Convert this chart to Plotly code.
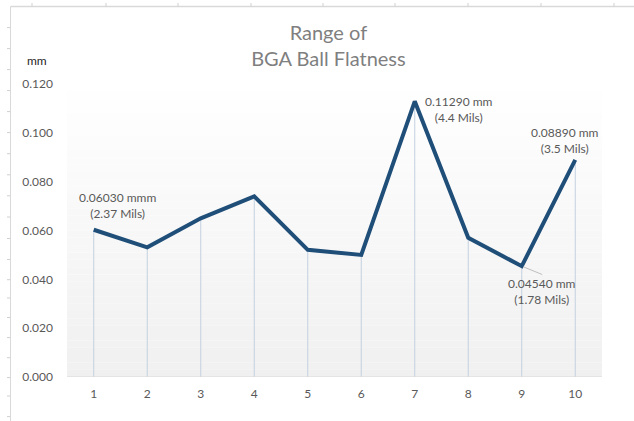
import plotly.graph_objects as go

# ---- data ----
categories = [1, 2, 3, 4, 5, 6, 7, 8, 9, 10]
flatness_mm = [0.0603, 0.0531, 0.0650, 0.0740, 0.0521, 0.0500, 0.1129, 0.0570, 0.0454, 0.0889]
y_ticks = [0.0, 0.02, 0.04, 0.06, 0.08, 0.10, 0.12]
y_tick_labels = ["0.000", "0.020", "0.040", "0.060", "0.080", "0.100", "0.120"]
label_idx = [0, 6, 8, 9]
label_text = [
    "0.06030 mmm<br>(2.37 Mils)",
    "0.11290 mm<br>(4.4 Mils)",
    "0.04540 mm<br>(1.78 Mils)",
    "0.08890 mm<br>(3.5 Mils)",
]

W, H = 634, 421
ML, MR, MT, MB = 67, 32, 84, 44
PW, PH = W - ML - MR, H - MT - MB
FONT = "Lato"
LINE_COLOR = "#1f4e79"
DROP_COLOR = "#c3d1e0"
TEXT_GRAY = "#595959"

fig = go.Figure()

# drop lines from each point to the axis
dx, dy = [], []
for c, v in zip(categories, flatness_mm):
    dx += [c, c, None]
    dy += [0, v, None]
fig.add_trace(go.Scatter(x=dx, y=dy, mode="lines",
                         line=dict(color=DROP_COLOR, width=1),
                         hoverinfo="skip", showlegend=False))

# main line
fig.add_trace(go.Scatter(x=categories, y=flatness_mm, mode="lines",
                         line=dict(color=LINE_COLOR, width=4),
                         showlegend=False))

shapes = []
# vertical gradient background of plot area (white at top -> light gray bottom)
n = 40
for i in range(n):
    t = (i + 0.5) / n  # 0 bottom .. 1 top
    g = int(round(240 + (255 - 240) * t))
    shapes.append(dict(type="rect", xref="x domain", yref="y domain",
                       x0=0, x1=1, y0=i / n, y1=(i + 1) / n,
                       fillcolor=f"rgb({g},{g},{g})", line=dict(width=0),
                       layer="below"))

# pixel -> paper conversion (paper = plot area inside margins)
px = lambda v: (v - ML) / PW
py = lambda v: (H - MB - v) / PH

# outer frame lines (screenshot edges)
shapes.append(dict(type="line", xref="paper", yref="paper",
                   x0=px(10.5), x1=px(10.5), y0=py(6.5), y1=py(421),
                   line=dict(color="#d9d9d9", width=1)))
shapes.append(dict(type="line", xref="paper", yref="paper",
                   x0=px(10.5), x1=px(634), y0=py(6.5), y1=py(6.5),
                   line=dict(color="#d9d9d9", width=1.5)))
for xt in [32, 106, 178, 251, 323, 395, 468, 541, 614]:
    shapes.append(dict(type="line", xref="paper", yref="paper",
                       x0=px(xt), x1=px(xt), y0=py(3), y1=py(6.5),
                       line=dict(color="#d0d0d0", width=1)))
for yt in [27.6, 48.6, 69.6, 90.6, 111.6, 132.6, 153.7, 174.8, 195.8, 217,
           238.5, 259.5, 279.7, 298, 317.5, 337.6, 357.7, 377.6, 396, 416.6]:
    shapes.append(dict(type="line", xref="paper", yref="paper",
                       x0=px(7), x1=px(10.5), y0=py(yt), y1=py(yt),
                       line=dict(color="#d0d0d0", width=1)))

annotations = []
offsets = {0: (24, -24), 6: (44, 8), 8: (20, 25), 9: (-10, -19)}
for i, txt in zip(label_idx, label_text):
    ox, oy = offsets[i]
    annotations.append(dict(x=categories[i], y=flatness_mm[i], xref="x", yref="y",
                            text=txt, showarrow=False, xshift=ox, yshift=-oy,
                            font=dict(family=FONT, size=12, color=TEXT_GRAY),
                            align="center"))
# leader line for point 9
annotations.append(dict(x=categories[8], y=flatness_mm[8], xref="x", yref="y",
                        ax=22, ay=9, axref="pixel", ayref="pixel", text="",
                        showarrow=True, arrowhead=0, arrowwidth=1,
                        arrowcolor="#bfbfbf", standoff=2))
# axis unit label
annotations.append(dict(x=px(25), y=py(61), xref="paper", yref="paper",
                        text="mm", showarrow=False, xanchor="left",
                        yanchor="middle",
                        font=dict(family=FONT, size=12, color="#262626")))

fig.update_layout(
    width=W, height=H,
    margin=dict(l=ML, r=MR, t=MT, b=MB),
    paper_bgcolor="white",
    plot_bgcolor="white",
    title=dict(text="Range of<br>BGA Ball Flatness", x=0.518, xanchor="center",
               y=1 - 40 / H, yanchor="middle",
               font=dict(family=FONT, size=20, color="#7f7f7f")),
    xaxis=dict(range=[0.5, 10.5], tickmode="array", tickvals=categories,
               ticktext=[str(c) for c in categories], showgrid=False,
               zeroline=False, showline=False, ticks="",
               tickfont=dict(family=FONT, size=12, color=TEXT_GRAY),
               ticklabelstandoff=8, fixedrange=True),
    yaxis=dict(range=[0, 0.12], tickmode="array", tickvals=y_ticks,
               ticktext=y_tick_labels, showgrid=False, zeroline=False,
               showline=False, ticks="",
               tickfont=dict(family=FONT, size=12, color=TEXT_GRAY),
               ticklabelstandoff=13, fixedrange=True),
    shapes=shapes,
    annotations=annotations,
)
# x axis baseline
fig.add_shape(type="line", xref="x domain", yref="y", x0=0, x1=1, y0=0, y1=0,
              line=dict(color="#d9d9d9", width=1))

fig.write_html("out.html")
